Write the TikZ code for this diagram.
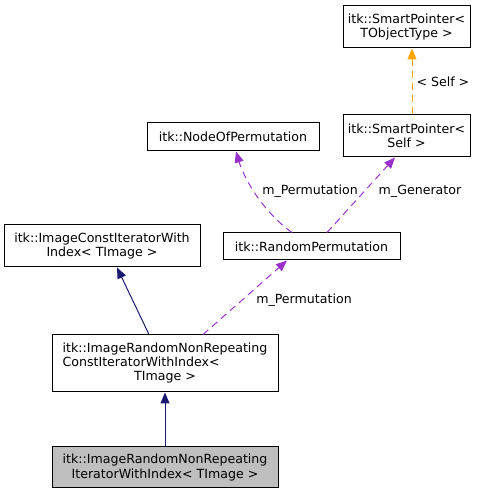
\documentclass[tikz,border=0pt]{standalone}
\usepackage{fontspec}
\setmainfont{DejaVu Sans}
\usetikzlibrary{positioning,arrows.meta}
\definecolor{EdgeNavy}{RGB}{25,25,112}
\definecolor{EdgePurple}{RGB}{153,50,204}
\definecolor{EdgeOrange}{RGB}{255,165,0}
\definecolor{NodeGrey}{RGB}{191,191,191}
\tikzset{
  inheritflow/.style={-{Triangle[length=11pt,width=9pt]},line width=1pt,draw=EdgeNavy},
  usageflow/.style={-{Triangle[length=11pt,width=9pt]},line width=1pt,draw=EdgePurple,dash pattern=on 7pt off 5pt},
  templflow/.style={-{Triangle[length=11pt,width=9pt]},line width=1pt,draw=EdgeOrange,dash pattern=on 7pt off 5pt},
  box/.style={draw=black,fill=white,line width=1pt,inner sep=0pt,align=center,
    font=\fontsize{12.6}{14.4}\selectfont},
  greybox/.style={box,fill=NodeGrey},
  elabel/.style={font=\fontsize{12.6}{14.4}\selectfont,inner sep=0pt}
}
\begin{document}
\begin{tikzpicture}[x=1pt,y=1pt]
  \useasboundingbox (0,0) rectangle (489,496);
  \node[box,minimum width=127pt,minimum height=42pt] (sptype) at (406.5,469) {itk::SmartPointer<\\TObjectType >};
  \node[box,minimum width=127pt,minimum height=42pt] (spself) at (406.5,360) {itk::SmartPointer<\\Self >};
  \node[box,minimum width=172pt,minimum height=28pt] (nodeperm) at (233,359) {itk::NodeOfPermutation};
  \node[box,minimum width=177pt,minimum height=27pt] (randperm) at (311.5,249.5) {itk::RandomPermutation};
  \node[box,minimum width=196pt,minimum height=42pt] (constiter) at (102,250) {itk::ImageConstIteratorWith\\Index< TImage >};
  \node[box,minimum width=226pt,minimum height=57pt] (randconst) at (165,132.5)
    {\renewcommand\arraystretch{0.98}\begin{tabular}{@{}l@{}}itk::ImageRandomNonRepeating\\ConstIteratorWithIndex<\\\multicolumn{1}{@{}c@{}}{TImage >}\end{tabular}};
  \node[greybox,minimum width=226pt,minimum height=41pt] (randiter) at (165,28.5) {itk::ImageRandomNonRepeating\\IteratorWithIndex< TImage >};
  % inheritance
  \draw[inheritflow] (randiter.north) -- (randconst.south);
  \draw[inheritflow] ([xshift=-16pt]randconst.north) -- ([xshift=15pt]constiter.south);
  % members
  \draw[usageflow] ([xshift=38pt]randconst.north) -- ([xshift=-24.5pt]randperm.south);
  \node[elabel] (lblpermlow) at (304,196) {m\_Permutation};
  \draw[usageflow] ([xshift=-19.5pt]randperm.north) .. controls (262,285) and (244,318) .. ([xshift=3pt]nodeperm.south);
  \node[elabel] (lblperm) at (310,305) {m\_Permutation};
  \draw[usageflow] ([xshift=15.5pt]randperm.north) -- ([xshift=-11.5pt]spself.south);
  \node[elabel] (lblgen) at (420,305) {m\_Generator};
  % template instance
  \draw[templflow] ([xshift=5.5pt]spself.north) -- node[elabel,right=4pt] {< Self >} ([xshift=5.5pt]sptype.south);
\end{tikzpicture}
\end{document}
